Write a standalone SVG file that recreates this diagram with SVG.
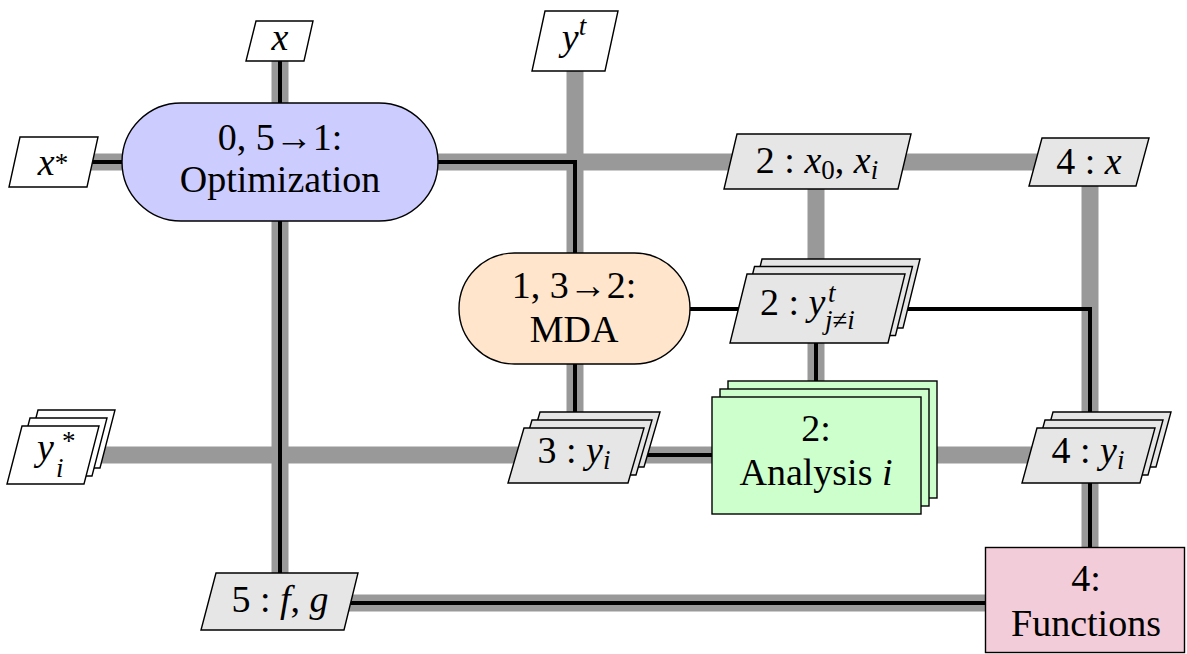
<svg xmlns="http://www.w3.org/2000/svg" width="1187" height="654" viewBox="0 0 1187 654">
<style>
.g{stroke:#999999;stroke-width:17;fill:none;stroke-linecap:butt}
.k{stroke:#000;stroke-width:4;fill:none;stroke-linejoin:miter}
.box{stroke:#000;stroke-width:1.4}
.in{fill:#ffffff}
.data{fill:#e6e6e6}
.opt{fill:#ccccff}
.mda{fill:#ffe5cc}
.ana{fill:#ccffcc}
.fun{fill:#f2ccd9}
text{font-family:"Liberation Serif","DejaVu Serif",serif;font-size:38px;fill:#000}
.c{text-anchor:middle}
.it{font-style:italic}
.s{font-size:27px}
</style>
<rect width="1187" height="654" fill="#fff"/>
<g id="connectors">
  <g id="data-lines">
    <line class="g" x1="53" y1="162" x2="1089" y2="162"/>
    <line class="g" x1="280" y1="41" x2="280" y2="603"/>
    <line class="g" x1="575" y1="41" x2="575" y2="455"/>
    <line class="g" x1="816" y1="162" x2="816" y2="455"/>
    <line class="g" x1="1090" y1="162" x2="1090" y2="600"/>
    <line class="g" x1="53" y1="455" x2="1088" y2="455"/>
    <line class="g" x1="280" y1="603" x2="1085" y2="603"/>
  </g>
  <g id="process-lines">
    <line class="k" x1="280" y1="41" x2="280" y2="603"/>
    <path class="k" d="M53 162 H575 V455"/>
    <path class="k" d="M575 309 H1090 V600"/>
    <line class="k" x1="816" y1="309" x2="816" y2="455"/>
    <line class="k" x1="576" y1="455" x2="816" y2="455"/>
    <line class="k" x1="280" y1="603" x2="1085" y2="603"/>
  </g>
</g>
<g id="in-x">
  <polygon class="box in" points="256,21 313,21 304,61 246,61"/>
  <text class="c it" x="280" y="50">x</text>
</g>
<g id="in-yt">
  <polygon class="box in" points="545,11 618,11 605,71 532,71"/>
  <text class="c" x="574" y="50"><tspan class="it">y</tspan><tspan class="it s" dy="-15">t</tspan></text>
</g>
<g id="in-xstar">
  <polygon class="box in" points="20,137 98,137 87,187 9,187"/>
  <text class="c" x="53" y="175"><tspan class="it">x</tspan><tspan class="s" dy="-3">*</tspan></text>
</g>
<g id="opt">
  <rect class="box opt" x="122" y="103" width="316" height="118" rx="59" ry="59"/>
  <text class="c" x="280" y="150">0, 5→1:</text>
  <text class="c" x="280" y="192">Optimization</text>
</g>
<g id="out-x0xi">
  <polygon class="box data" points="737,134 911,134 898,189 724,189"/>
  <text class="c" x="817" y="173">2 : <tspan class="it">x</tspan><tspan class="s" dy="6">0</tspan><tspan dy="-6">, </tspan><tspan class="it">x</tspan><tspan class="it s" dy="6">i</tspan></text>
</g>
<g id="out-4x">
  <polygon class="box data" points="1042,138 1149,138 1136,186 1029,186"/>
  <text class="c" x="1089" y="174">4 : <tspan class="it">x</tspan></text>
</g>
<g id="mda">
  <rect class="box mda" x="459" y="253" width="231" height="111" rx="55.5" ry="55.5"/>
  <text class="c" x="574" y="298">1, 3→2:</text>
  <text class="c" x="574" y="342">MDA</text>
</g>
<g id="data-ytj">
  <polygon class="box data" points="762,259 920,259 903,328 745,328"/>
  <polygon class="box data" points="754.5,266.5 912.5,266.5 895.5,335.5 737.5,335.5"/>
  <polygon class="box data" points="747,274 905,274 888,343 730,343"/>
  <text x="760" y="315">2 : <tspan class="it">y</tspan></text>
  <text class="it s" x="828" y="302">t</text>
  <text class="s" x="825" y="329"><tspan class="it">j</tspan>≠<tspan class="it">i</tspan></text>
</g>
<g id="in-yistar">
  <polygon class="box in" points="38,410 115,410 100,468 23,468"/>
  <polygon class="box in" points="30,418 107,418 92,476 15,476"/>
  <polygon class="box in" points="22,426 99,426 84,484 7,484"/>
  <text x="37" y="460"><tspan class="it">y</tspan><tspan class="s" x="62" dy="-10">*</tspan><tspan class="it s" x="56" dy="27">i</tspan></text>
</g>
<g id="data-3yi">
  <polygon class="box data" points="540,412 660,412 644,467 524,467"/>
  <polygon class="box data" points="532,420 652,420 636,475 516,475"/>
  <polygon class="box data" points="524,428 644,428 628,483 508,483"/>
  <text class="c" x="574" y="463">3 : <tspan class="it">y</tspan><tspan class="it s" dy="6">i</tspan></text>
</g>
<g id="analysis">
  <rect class="box ana" x="728" y="381" width="209" height="117"/>
  <rect class="box ana" x="720" y="389" width="209" height="117"/>
  <rect class="box ana" x="712" y="397" width="209" height="117"/>
  <text class="c" x="816" y="441">2:</text>
  <text class="c" x="816" y="485">Analysis <tspan class="it">i</tspan></text>
</g>
<g id="data-4yi">
  <polygon class="box data" points="1053,412 1171,412 1156,467 1038,467"/>
  <polygon class="box data" points="1045,420 1163,420 1148,475 1030,475"/>
  <polygon class="box data" points="1037,428 1155,428 1140,483 1022,483"/>
  <text class="c" x="1088" y="463">4 : <tspan class="it">y</tspan><tspan class="it s" dy="6">i</tspan></text>
</g>
<g id="out-fg">
  <polygon class="box data" points="216,573 358,573 344,630 201,630"/>
  <text class="c" x="280" y="612">5 : <tspan class="it">f</tspan>, <tspan class="it">g</tspan></text>
</g>
<g id="functions">
  <rect class="box fun" x="985.5" y="547.5" width="199" height="105"/>
  <text class="c" x="1086" y="591">4:</text>
  <text class="c" x="1086" y="636">Functions</text>
</g>
</svg>
